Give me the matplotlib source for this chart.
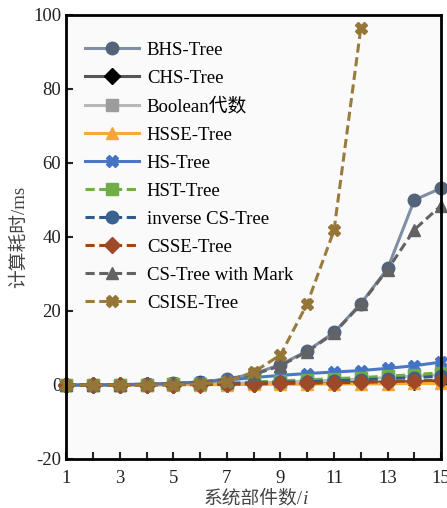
import matplotlib
matplotlib.use("Agg")
import matplotlib.pyplot as plt

plt.rcParams['font.family'] = ['Liberation Serif', 'Noto Sans CJK SC']

# --- data ---
n_parts = list(range(1, 16))

bhs_tree = [0, 0, 0.1, 0.2, 0.4, 0.8, 1.6, 3.0, 5.5, 9.2, 14.2, 22.0, 31.5, 50.0, 53.2]
chs_tree = [0, 0, 0, 0.1, 0.1, 0.2, 0.2, 0.3, 0.4, 0.5, 0.6, 0.7, 0.8, 0.9, 1.0]
boolean_alg = [0, 0, 0, 0.1, 0.2, 0.3, 0.4, 0.6, 0.8, 1.0, 1.3, 1.6, 2.0, 2.4, 2.8]
hsse_tree = [0, 0, 0, 0, 0.1, 0.1, 0.1, 0.2, 0.2, 0.2, 0.3, 0.3, 0.3, 0.4, 0.4]
hs_tree = [0, 0, 0.1, 0.2, 0.4, 0.8, 1.3, 2.0, 2.6, 3.1, 3.5, 3.9, 4.5, 5.2, 6.2]
hst_tree = [0, 0, 0, 0.1, 0.2, 0.3, 0.5, 0.8, 1.1, 1.4, 1.7, 2.0, 2.4, 2.8, 3.3]
inv_cs_tree = [0, 0, 0, 0.1, 0.1, 0.2, 0.3, 0.5, 0.7, 0.9, 1.1, 1.4, 1.7, 2.0, 2.4]
csse_tree = [0, 0, 0, 0, 0.1, 0.1, 0.2, 0.3, 0.4, 0.5, 0.6, 0.7, 0.9, 1.1, 1.3]
cs_mark = [0, 0, 0.1, 0.2, 0.4, 0.8, 1.5, 2.8, 5.2, 9.0, 14.0, 21.8, 31.2, 42.0, 48.5]
csise_tree = [0, 0, 0, 0, 0.1, 0.3, 0.9, 3.5, 8.1, 22.0, 41.8, 96.5]

series = [
    # label, values, line colour, marker colour, marker, linestyle
    ("BHS-Tree", bhs_tree, '#7f8ea2', '#53637a', 'o', '-'),
    ("CHS-Tree", chs_tree, '#555555', '#000000', 'D', '-'),
    ("Boolean代数", boolean_alg, '#b8b8b8', '#9c9c9c', 's', '-'),
    ("HSSE-Tree", hsse_tree, '#f4ab3c', '#f4a63a', '^', '-'),
    ("HS-Tree", hs_tree, '#4a78c4', '#4472c4', 'X', '-'),
    ("HST-Tree", hst_tree, '#70ad47', '#70ad47', 's', '--'),
    ("inverse CS-Tree", inv_cs_tree, '#2e5a8c', '#3a6190', 'o', '--'),
    ("CSSE-Tree", csse_tree, '#9e480e', '#9e4a28', 'D', '--'),
    ("CS-Tree with Mark", cs_mark, '#636363', '#636363', '^', '--'),
    ("CSISE-Tree", csise_tree, '#9a7b3e', '#967637', 'X', '--'),
]

fig = plt.figure(figsize=(4.47, 5.08), dpi=100)
ax = fig.add_axes([0.148, 0.0965, 0.839, 0.874])
ax.set_facecolor('#fafafa')

for label, vals, lc, mc, mk, ls in series:
    ms = 9 if mk in ('o', 's', 'X') else 8
    ax.plot(n_parts[:len(vals)], vals, color=lc, linestyle=ls, linewidth=2.2,
            marker=mk, markersize=ms, markerfacecolor=mc, markeredgecolor=mc,
            dashes=(3, 1.5) if ls == '--' else (None, None),
            label=label, clip_on=False)

ax.set_xlim(1, 15)
ax.set_ylim(-20, 100)
ax.set_xticks(range(1, 16))
ax.set_xticklabels([str(i) if i % 2 == 1 else '' for i in range(1, 16)])
ax.set_yticks(range(-20, 101, 20))
ax.set_yticklabels(['-20', '0', '20', '40', '60', '80', '100'])
ax.tick_params(direction='in', length=5, width=1.5, labelsize=13.5, colors='#222222')
ax.tick_params(axis='x', pad=8)
for sp in ax.spines.values():
    sp.set_linewidth(2)

xl = ax.set_xlabel("系统部件数/", fontsize=13.5, color='#444444', labelpad=2)
ax.annotate("i", xy=(1, 0), xycoords=xl, va='bottom', ha='left',
            fontsize=14, fontstyle='italic', color='#444444',
            family='Liberation Serif')
ax.set_ylabel("计算耗时/ms", fontsize=13.5, color='#444444', labelpad=4)

ax.legend(loc='upper left', bbox_to_anchor=(0.02, 0.965), frameon=False,
          fontsize=13.5, handlelength=2.9, labelspacing=0.58, handletextpad=0.4,
          borderaxespad=0.2)

fig.savefig("out.png", dpi=100)
